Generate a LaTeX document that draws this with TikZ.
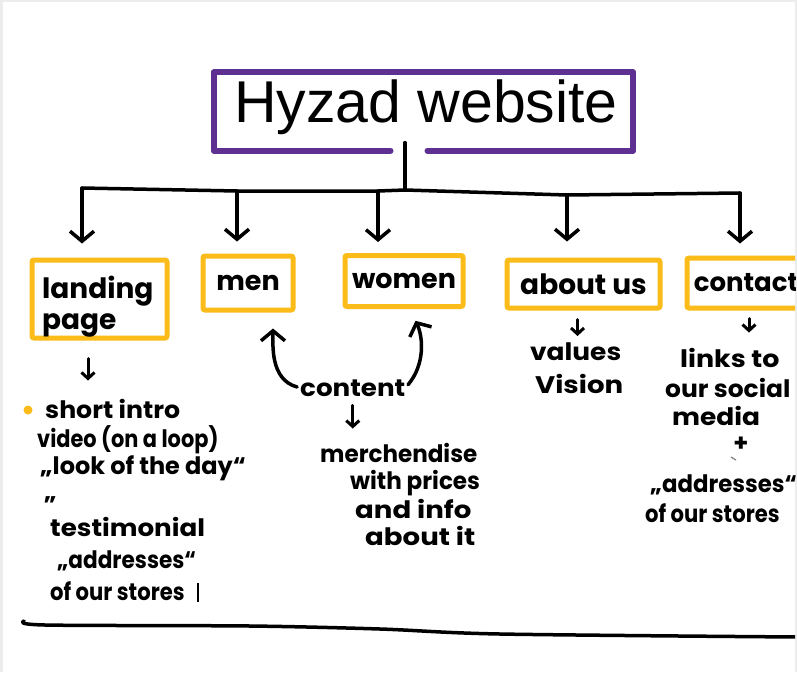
\documentclass[tikz,border=0pt]{standalone}
\usepackage{fontspec}
\usepackage{graphicx}
\setmainfont{Poppins}
\newfontfamily\titlefont{Liberation Sans}
\usetikzlibrary{arrows.meta}
\definecolor{boxyellow}{RGB}{251,188,25}
\definecolor{titlepurple}{RGB}{94,48,146}
\definecolor{framegray}{RGB}{236,236,236}
% stretch or squeeze a line of text horizontally
\newcommand\handline[2]{\scalebox{#1}[1]{#2}}

\begin{document}
\begin{tikzpicture}[x=1pt,y=-1pt,
  ink/.style={line width=3.5pt, line cap=round, line join=round},
  arr/.style={ink, -{Straight Barb[length=10pt,width=24pt]}},
  sarr/.style={line width=3pt, line cap=round, line join=round, -{Straight Barb[length=6pt,width=13pt]}},
  section/.style={draw=boxyellow, line width=5pt, rounded corners=2pt, inner sep=0pt,
    font=\bfseries\fontsize{27}{30}\selectfont},
  note/.style={font=\bfseries\fontsize{#1}{#1}\selectfont, inner sep=0pt, anchor=base west},
  note/.default=24,
]
\useasboundingbox (0,0) rectangle (797,672);
\fill[framegray] (0,0) rectangle (797,672);
\fill[white] (3,2) rectangle (795,672);

\begin{scope}
\clip (3,2) rectangle (795,672);

% title
\node[minimum width=419pt, minimum height=78pt, inner sep=0pt] (title) at (423.5,111.5) {};
\node[font=\titlefont\fontsize{59}{60}\selectfont, inner sep=0pt, anchor=base] (titletext) at (426,122) {Hyzad website};
\draw[titlepurple, line width=6pt, line cap=round, line join=round]
  ([xshift=-33pt]title.south) -- (title.south west) -- (title.north west)
  -- (title.north east) -- (title.south east) -- ([xshift=4pt]title.south);

% bus
\coordinate (stem) at (405,190);
\coordinate (b1) at (82,188);
\coordinate (b2) at (237,191);
\coordinate (b3) at (378,191);
\coordinate (b4) at (567,195);
\coordinate (b5) at (740,193);
\draw[ink] ([xshift=-18.5pt,yshift=8pt]title.south) -- (stem);
\draw[ink] (b1) -- (b2) -- (b3) -- (stem) -- (b4) -- (b5);

% sections
\node[section, minimum width=135pt, minimum height=78pt] (landing) at (99.5,299) {};
\node[note=28] (landing1) at (42,298) {landing};
\node[note=28] (landing2) at (42,329) {page};
\node[section, minimum width=90pt, minimum height=54pt] (men) at (248,283) {men};
\node[section, minimum width=118pt, minimum height=51pt] (women) at (404,281) {women};
\node[section, minimum width=153pt, minimum height=48pt, font=\bfseries\fontsize{28}{30}\selectfont] (about) at (583.5,284) {about us};
\node[section, minimum width=118pt, minimum height=50pt, font=\bfseries\fontsize{26}{30}\selectfont] (contact) at (746,283) {contact};

\draw[arr, shorten >=14pt] (b1) -- (b1 |- landing.north);
\draw[arr, shorten >=12pt] (b2) -- (b2 |- men.north);
\draw[arr, shorten >=11pt] (b3) -- (b3 |- women.north);
\draw[arr, shorten >=16pt] (b4) -- (b4 |- about.north);
\draw[arr, shorten >=12pt] (b5) -- (b5 |- contact.north);

% landing page notes
\fill[boxyellow] (28,410) circle (4.5);
\node[note] (intro) at (45,418) {\handline{1.05}{short intro}};
\node[note] (video) at (37,447) {\handline{0.87}{video (on a loop)}};
\node[note] (look) at (40,474) {\handline{1.0}{„look of the day“}};
\node[note] (quote) at (44,500) {„};
\node[note] (testimonial) at (50,536) {\handline{1.09}{testimonial}};
\node[note] (addr1) at (57,568) {\handline{0.9}{„addresses“}};
\node[note] (stores1) at (50,600) {\handline{0.88}{of our stores}};
\draw[line width=1.5pt] (198,583) -- (198,602);
\draw[sarr] ([xshift=-11.5pt,yshift=-18pt]landing.south) -- ([xshift=-11.5pt,yshift=-40pt]landing.south);

% content notes
\node[note] (content) at (300,396) {\handline{1.09}{content}};
\draw[arr, shorten <=3pt, shorten >=16pt] (content.west) to[out=165,in=-90] ([xshift=25pt]men.south);
\draw[arr, shorten <=4pt, shorten >=13pt] (content.east) to[out=50,in=-65] ([xshift=6pt]women.south);
\node[note] (merch) at (320,462) {\handline{0.96}{merchendise}};
\node[note] (prices) at (350,489) {\handline{0.96}{with prices}};
\node[note] (info) at (355,518) {\handline{1.15}{and info}};
\node[note] (aboutit) at (365,545) {\handline{1.15}{about it}};
\draw[sarr, shorten <=9pt, shorten >=14pt] (content.south) -- (content.south |- merch.north);

% about us notes
\node[note] (values) at (530,360) {\handline{1.1}{values}};
\node[note] (vision) at (535,393) {\handline{1.15}{Vision}};
\draw[sarr, shorten <=9pt, shorten >=6pt] ([xshift=-6pt]about.south) -- ([xshift=-6pt]about.south |- values.north);

% contact notes
\node[note] (links) at (680,367) {\handline{1.12}{links to}};
\node[note] (social) at (665,397) {\handline{1.04}{our social}};
\node[note] (media) at (672,425) {\handline{1.1}{media}};
\node[note, anchor=center] (plus) at (741,444) {+};
\draw[line width=1.2pt, gray] (731,457) -- (736,460);
\node[note] (addr2) at (650,492) {\handline{0.95}{„addresses“}};
\node[note] (stores2) at (645,522) {\handline{0.88}{of our stores}};
\draw[sarr, shorten <=8pt, shorten >=15pt] ([xshift=3pt]contact.south) -- ([xshift=3pt]contact.south |- links.north);

% closing rule
\draw[ink] plot[smooth] coordinates {(24,621) (45,625) (250,626) (380,629) (500,634) (797,637)};
\end{scope}
\end{tikzpicture}
\end{document}
